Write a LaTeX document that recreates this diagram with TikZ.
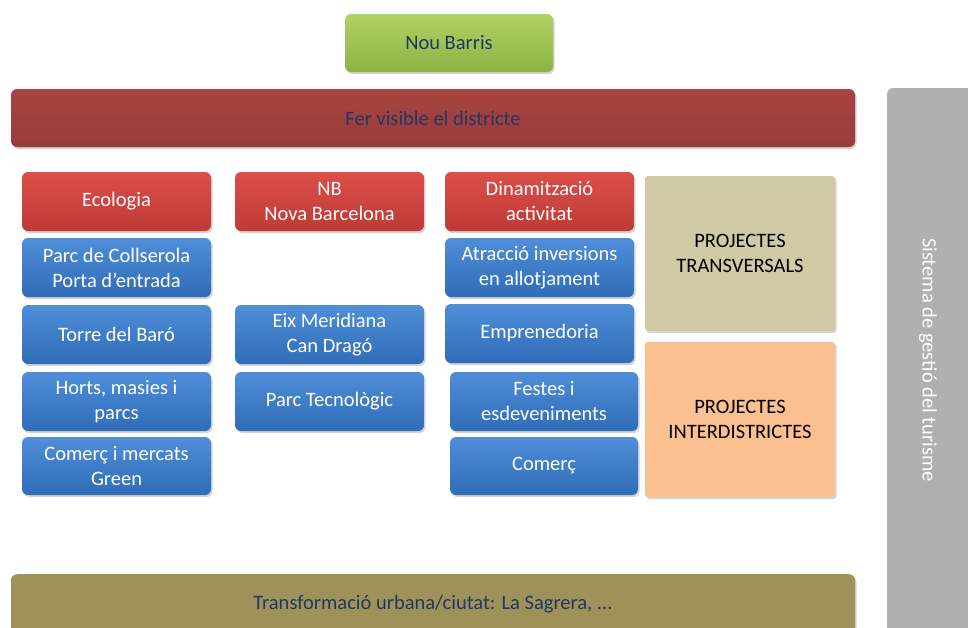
\documentclass[tikz,border=0pt]{standalone}
\usepackage{fontspec}
\setmainfont{Carlito}
\usetikzlibrary{shadows}
\definecolor{navy}{HTML}{1F3864}
\definecolor{gtop}{RGB}{178,210,100}
\definecolor{gbot}{RGB}{140,178,68}
\definecolor{drtop}{RGB}{168,68,66}
\definecolor{drbot}{RGB}{152,60,58}
\definecolor{rtop}{RGB}{220,78,74}
\definecolor{rbot}{RGB}{190,58,54}
\definecolor{btop}{RGB}{80,142,218}
\definecolor{bbot}{RGB}{48,108,184}
\definecolor{tanc}{RGB}{208,202,164}
\definecolor{peachc}{RGB}{250,192,144}
\definecolor{olivec}{RGB}{159,145,90}
\definecolor{greyc}{RGB}{176,176,176}
\tikzset{
  box/.style={rounded corners=6pt, align=center, inner sep=2pt,
    font=\fontsize{20.5}{25}\selectfont,
    drop shadow={shadow xshift=1.5pt, shadow yshift=-2pt, opacity=0.35}},
  greenbox/.style={box, top color=gtop, bottom color=gbot, text=navy},
  darkred/.style={box, top color=drtop, bottom color=drbot, text=navy},
  redbox/.style={box, top color=rtop, bottom color=rbot, text=white},
  bluebox/.style={box, top color=btop, bottom color=bbot, text=white},
  tanbox/.style={box, rounded corners=3pt, fill=tanc, text=black},
  peachbox/.style={box, rounded corners=3pt, fill=peachc, text=black},
  olivebox/.style={box, fill=olivec, text=navy},
  greybox/.style={rounded corners=6pt, fill=greyc},
}
\begin{document}
\begin{tikzpicture}[x=1pt,y=-1pt]
\useasboundingbox (0,0) rectangle (968,627);
\clip (0,0) rectangle (968,627);
% grey side bar
\node[greybox, minimum width=100pt, minimum height=560pt, inner sep=0pt] (side) at (937,368) {};
\node[rotate=-90, text=white, font=\fontsize{20.5}{25}\selectfont] (sidetext) at (928,360) {Sistema de gestió del turisme};
% top
\node[greenbox, minimum width=208pt, minimum height=58pt] (nb) at (449,43) {Nou Barris};
\node[darkred, minimum width=844pt, minimum height=58pt] (fer) at (433,118) {Fer visible el districte};
% column heads
\node[redbox, minimum width=189pt, minimum height=59pt] (eco) at (116.5,201.5) {Ecologia};
\node[redbox, minimum width=189pt, minimum height=59pt] (nova) at (329.5,201.5) {NB\\Nova Barcelona};
\node[redbox, minimum width=189pt, minimum height=59pt] (din) at (539.5,201.5) {Dinamització\\activitat};
% column 1
\node[bluebox, minimum width=189pt, minimum height=59pt] (parc) at (116.5,267.5) {Parc de Collserola\\Porta d’entrada};
\node[bluebox, minimum width=189pt, minimum height=59pt] (torre) at (116.5,334.5) {Torre del Baró};
\node[bluebox, minimum width=189pt, minimum height=59pt] (horts) at (116.5,401.5) {Horts, masies i\\parcs};
\node[bluebox, minimum width=189pt, minimum height=58pt] (comm) at (116.5,466) {Comerç i mercats\\Green};
% column 2
\node[bluebox, minimum width=189pt, minimum height=59pt] (eix) at (329.5,334.5) {Eix Meridiana\\Can Dragó};
\node[bluebox, minimum width=189pt, minimum height=59pt] (tec) at (329.5,401.5) {Parc Tecnològic};
% column 3
\node[bluebox, minimum width=189pt, minimum height=59pt] (atr) at (539.5,267.5) {Atracció inversions\\en allotjament};
\node[bluebox, minimum width=189pt, minimum height=59pt] (emp) at (539.5,333.5) {Emprenedoria};
\node[bluebox, minimum width=188pt, minimum height=59pt] (fes) at (544,401.5) {Festes i\\esdeveniments};
\node[bluebox, minimum width=188pt, minimum height=58pt] (com) at (544,466) {Comerç};
% projects
\node[tanbox, minimum width=190pt, minimum height=155pt] (trans) at (740,253.5) {PROJECTES\\TRANSVERSALS};
\node[peachbox, minimum width=190pt, minimum height=155pt] (inter) at (740,419.5) {PROJECTES\\INTERDISTRICTES};
% bottom
\node[olivebox, minimum width=844pt, minimum height=80pt, anchor=north] (bot) at (433,574) {};
\node[text=navy, font=\fontsize{20.5}{25}\selectfont] (bottext) at (433,604) {Transformació urbana/ciutat: La Sagrera, ...};
\end{tikzpicture}
\end{document}
